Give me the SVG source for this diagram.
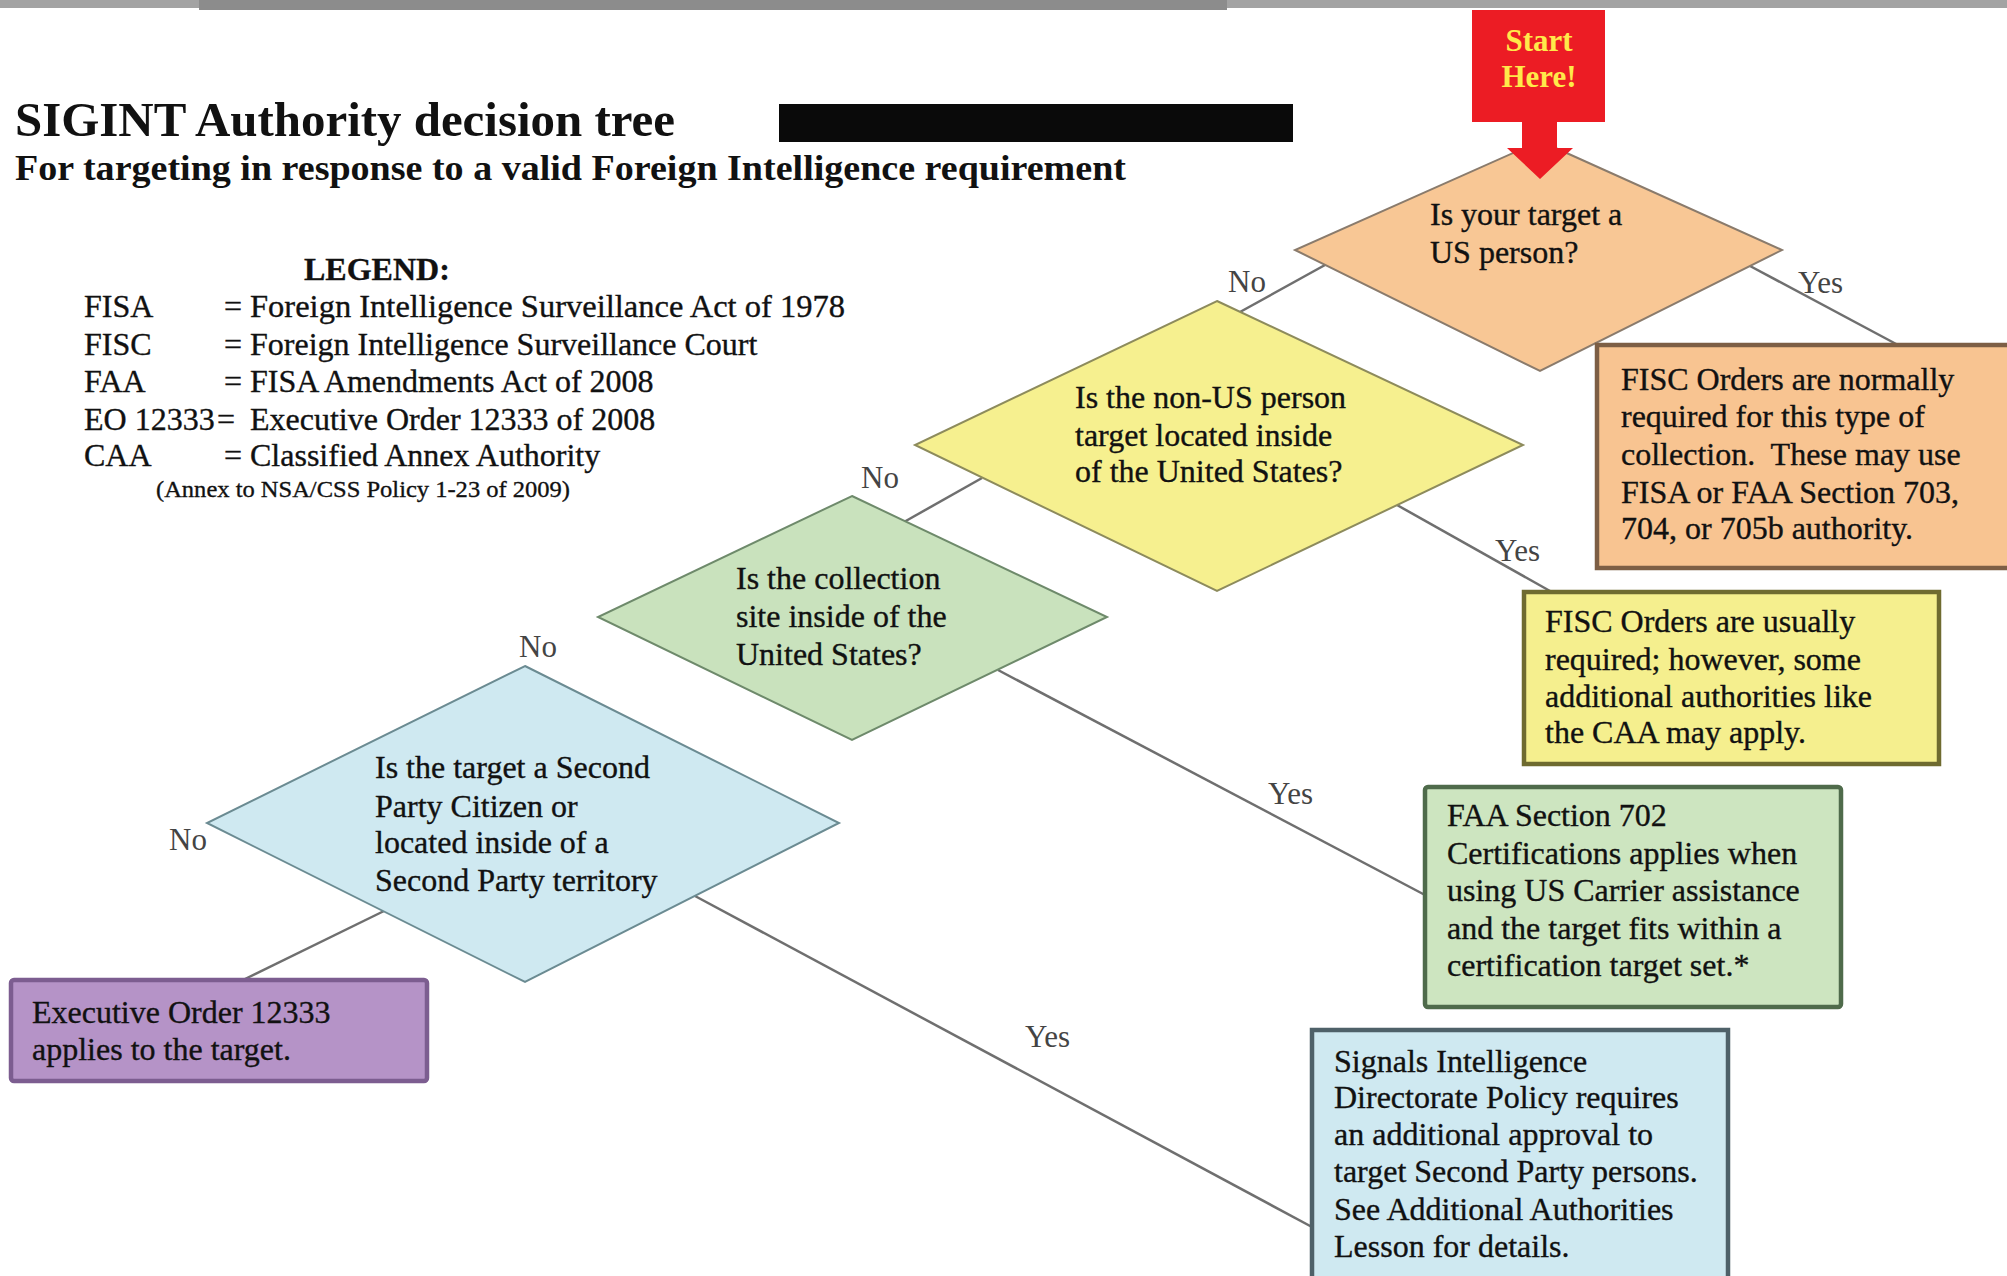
<svg xmlns="http://www.w3.org/2000/svg" width="2007" height="1276" viewBox="0 0 2007 1276">
<style>
text{font-family:"Liberation Serif","Times New Roman",serif;fill:#111;}
.t{font-size:32px;stroke:#111;stroke-width:0.35px;}
.lbl{font-size:31px;fill:#444;}
.conn{stroke:#6f6f6f;stroke-width:2.5;fill:none;}
.dia{stroke-width:2;}
.box{stroke-width:4.5;}
</style>
<rect x="0" y="0" width="2007" height="1276" fill="#ffffff"/>
<rect x="0" y="0" width="2007" height="8" fill="#a3a3a3"/>
<rect x="199" y="0" width="1028" height="10" fill="#8c8c8c"/>

<g id="title">
<text x="15" y="136" font-size="48" font-weight="bold" textLength="660" lengthAdjust="spacingAndGlyphs">SIGINT Authority decision tree</text>
<text x="15" y="180" font-size="36" font-weight="bold" textLength="1111" lengthAdjust="spacingAndGlyphs">For targeting in response to a valid Foreign Intelligence requirement</text>
<rect x="779" y="104" width="514" height="38" fill="#0a0a0a"/>
</g>

<g id="legend" class="t">
<text x="304" y="280" font-weight="bold">LEGEND:</text>
<text x="84" y="317">FISA</text><text x="224" y="317">=</text><text x="250" y="317" textLength="595" lengthAdjust="spacingAndGlyphs">Foreign Intelligence Surveillance Act of 1978</text>
<text x="84" y="355">FISC</text><text x="224" y="355">=</text><text x="250" y="355">Foreign Intelligence Surveillance Court</text>
<text x="84" y="392">FAA</text><text x="224" y="392">=</text><text x="250" y="392">FISA Amendments Act of 2008</text>
<text x="84" y="430">EO 12333</text><text x="217" y="430">=</text><text x="250" y="430">Executive Order 12333 of 2008</text>
<text x="84" y="466">CAA</text><text x="224" y="466">=</text><text x="250" y="466">Classified Annex Authority</text>
<text x="156" y="497" font-size="24" textLength="414" lengthAdjust="spacingAndGlyphs">(Annex to NSA/CSS Policy 1-23 of 2009)</text>
</g>

<g id="connectors">
<line class="conn" x1="1325" y1="265" x2="1240" y2="312"/>
<line class="conn" x1="1750" y1="266" x2="1898" y2="345"/>
<line class="conn" x1="982" y1="478" x2="904" y2="522"/>
<line class="conn" x1="1397" y1="505" x2="1550" y2="591"/>
<line class="conn" x1="998" y1="670" x2="1425" y2="895"/>
<line class="conn" x1="384" y1="911" x2="243" y2="980"/>
<line class="conn" x1="695" y1="896" x2="1312" y2="1227"/>
<text class="lbl" x="1228" y="292">No</text>
<text class="lbl" x="1798" y="293">Yes</text>
<text class="lbl" x="861" y="488">No</text>
<text class="lbl" x="1495" y="561">Yes</text>
<text class="lbl" x="519" y="657">No</text>
<text class="lbl" x="1268" y="804">Yes</text>
<text class="lbl" x="169" y="850">No</text>
<text class="lbl" x="1025" y="1047">Yes</text>
</g>

<g id="q1">
<polygon class="dia" points="1540,141 1782,250 1540,371 1295,250" fill="#f8c795" stroke="#8a7b6c"/>
<text class="t" x="1430" y="225">Is your target a</text>
<text class="t" x="1430" y="263">US person?</text>
</g>

<g id="start">
<rect x="1472" y="10" width="133" height="112" fill="#ec1c24"/>
<polygon points="1522,121 1557,121 1557,148 1573,148 1540,179 1507,148 1522,148" fill="#ec1c24"/>
<text x="1539" y="51" font-size="31" font-weight="bold" text-anchor="middle" style="fill:#ffe94a">Start</text>
<text x="1539" y="87" font-size="31" font-weight="bold" text-anchor="middle" style="fill:#ffe94a">Here!</text>
</g>

<g id="q2">
<polygon class="dia" points="1217,301 1523,445 1217,591 915,445" fill="#f6f08f" stroke="#8d8b5c"/>
<text class="t" x="1075" y="408">Is the non-US person</text>
<text class="t" x="1075" y="446">target located inside</text>
<text class="t" x="1075" y="482">of the United States?</text>
</g>

<g id="q3">
<polygon class="dia" points="852,496 1107,617 852,740 598,617" fill="#c9e2bd" stroke="#6e8a6b"/>
<text class="t" x="736" y="589">Is the collection</text>
<text class="t" x="736" y="627">site inside of the</text>
<text class="t" x="736" y="665">United States?</text>
</g>

<g id="q4">
<polygon class="dia" points="525,666 839,823 525,982 207,823" fill="#cfe9f1" stroke="#6b8b92"/>
<text class="t" x="375" y="778">Is the target a Second</text>
<text class="t" x="375" y="817">Party Citizen or</text>
<text class="t" x="375" y="853">located inside of a</text>
<text class="t" x="375" y="891">Second Party territory</text>
</g>

<g id="a1">
<rect class="box" x="1597" y="345" width="430" height="223" fill="#f8c491" stroke="#7d5f45"/>
<text class="t" x="1621" y="390">FISC Orders are normally</text>
<text class="t" x="1621" y="427">required for this type of</text>
<text class="t" x="1621" y="465" xml:space="preserve">collection.  These may use</text>
<text class="t" x="1621" y="503">FISA or FAA Section 703,</text>
<text class="t" x="1621" y="539">704, or 705b authority.</text>
</g>

<g id="a2">
<rect class="box" x="1524" y="592" width="415" height="172" fill="#f5ef8e" stroke="#6f6b30"/>
<text class="t" x="1545" y="632">FISC Orders are usually</text>
<text class="t" x="1545" y="670">required; however, some</text>
<text class="t" x="1545" y="707">additional authorities like</text>
<text class="t" x="1545" y="743">the CAA may apply.</text>
</g>

<g id="a3">
<rect class="box" x="1425" y="787" width="416" height="220" rx="3" fill="#cde5c0" stroke="#4f6b4b"/>
<text class="t" x="1447" y="826">FAA Section 702</text>
<text class="t" x="1447" y="864">Certifications applies when</text>
<text class="t" x="1447" y="901">using US Carrier assistance</text>
<text class="t" x="1447" y="939">and the target fits within a</text>
<text class="t" x="1447" y="976">certification target set.*</text>
</g>

<g id="a4">
<rect class="box" x="1312" y="1030" width="416" height="260" fill="#cfe9f1" stroke="#4e6169"/>
<text class="t" x="1334" y="1072">Signals Intelligence</text>
<text class="t" x="1334" y="1108">Directorate Policy requires</text>
<text class="t" x="1334" y="1145">an additional approval to</text>
<text class="t" x="1334" y="1182">target Second Party persons.</text>
<text class="t" x="1334" y="1220">See Additional Authorities</text>
<text class="t" x="1334" y="1257">Lesson for details.</text>
</g>

<g id="a5">
<rect class="box" x="11" y="980" width="416" height="101" rx="3" fill="#b593c7" stroke="#7c5d90"/>
<text class="t" x="32" y="1023">Executive Order 12333</text>
<text class="t" x="32" y="1060">applies to the target.</text>
</g>
</svg>
